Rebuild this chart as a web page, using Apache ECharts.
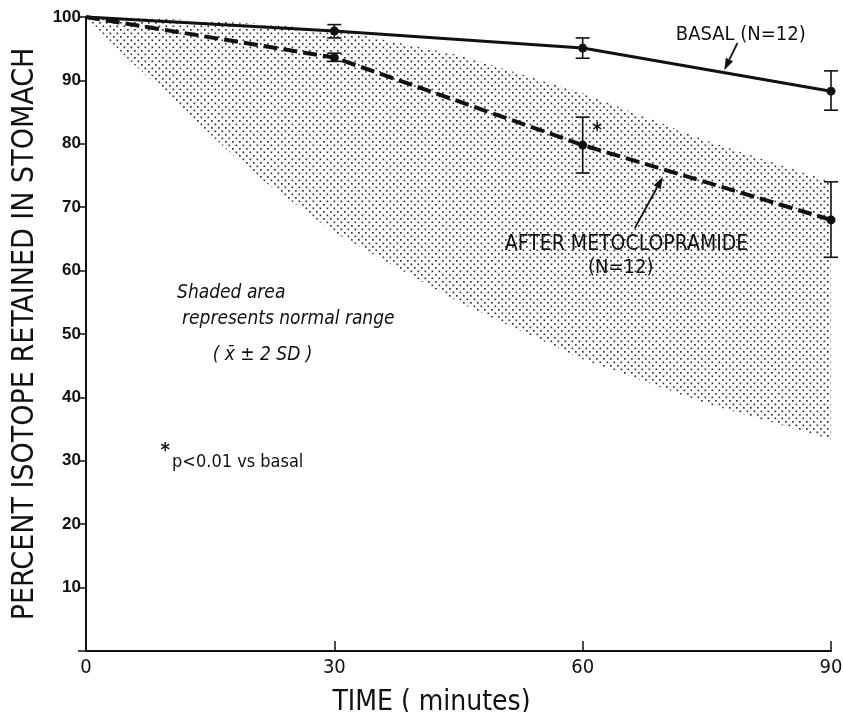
<!DOCTYPE html>
<html>
<head>
<meta charset="utf-8">
<script src="https://cdn.jsdelivr.net/npm/echarts@6/dist/echarts.min.js"></script>
<style>
  html, body { margin: 0; padding: 0; background: #fff; }
  #chart { width: 843px; height: 712px; }
</style>
</head>
<body>
<div id="chart"></div>
<script>
// sampling times (minutes)
var times = [0, 30, 60, 90];
// basal emptying, mean and error bar ends
var basal = [100, 97.8, 95.1, 88.3];
var basalLow = [null, 96.7, 93.5, 85.3];
var basalHigh = [null, 98.8, 96.7, 91.5];
// after metoclopramide
var meto = [100, 93.6, 79.8, 68.0];
var metoLow = [null, 93.0, 75.4, 62.1];
var metoHigh = [null, 94.3, 84.2, 74.0];
// normal range (mean +/- 2 SD), shaded
var bandTimes = [0, 5, 10, 20, 30, 45, 60, 75, 90];
var bandUpper = [100, 99.9, 99.7, 99.0, 98.0, 94.0, 88.0, 80.5, 74.0];
var bandLower = [100, 93.5, 87.5, 75.5, 66.0, 55.0, 46.0, 39.0, 33.4];
// axis ticks
var xTicks = [0, 30, 60, 90];
var yTicks = [10, 20, 30, 40, 50, 60, 70, 80, 90, 100];

var INK = '#111';
var FONT = '"Liberation Sans Narrow", "DejaVu Sans Condensed", "Liberation Sans", sans-serif';

// stipple pattern for the normal range
function dots() {
  var c = document.createElement('canvas');
  c.width = 7; c.height = 7;
  var g = c.getContext('2d');
  g.fillStyle = '#333';
  g.fillRect(1, 1, 1.7, 1.7);
  g.fillRect(4.5, 4.5, 1.7, 1.7);
  return c;
}
var pattern = { image: dots(), repeat: 'repeat' };

function pairs(ys) {
  return times.map(function (t, i) { return [t, ys[i]]; });
}
function errData(lo, hi) {
  var out = [];
  times.forEach(function (t, i) {
    if (lo[i] != null) out.push([t, lo[i], hi[i]]);
  });
  return out;
}
function renderErr(params, api) {
  var x = api.value(0);
  var top = api.coord([x, api.value(2)]);
  var bot = api.coord([x, api.value(1)]);
  var w = 7;
  var st = { stroke: INK, lineWidth: 1.6 };
  return {
    type: 'group',
    children: [
      { type: 'line', shape: { x1: top[0], y1: top[1], x2: bot[0], y2: bot[1] }, style: st },
      { type: 'line', shape: { x1: top[0] - w, y1: top[1], x2: top[0] + w, y2: top[1] }, style: st },
      { type: 'line', shape: { x1: bot[0] - w, y1: bot[1], x2: bot[0] + w, y2: bot[1] }, style: st }
    ]
  };
}
function renderBand(params, api) {
  if (params.dataIndex !== 0) return null;
  var pts = [];
  bandTimes.forEach(function (t, i) { pts.push(api.coord([t, bandUpper[i]])); });
  for (var i = bandTimes.length - 1; i >= 0; i--) pts.push(api.coord([bandTimes[i], bandLower[i]]));
  return {
    type: 'polygon',
    shape: { points: pts },
    style: { fill: pattern, stroke: null }
  };
}

var chart = echarts.init(document.getElementById('chart'));
chart.setOption({
  animation: false,
  backgroundColor: '#fff',
  grid: { left: 86, right: 12, top: 17, bottom: 61, containLabel: false, outerBoundsMode: 'none' },
  xAxis: {
    type: 'value', min: 0, max: 90, interval: 30,
    name: 'TIME ( minutes)', nameLocation: 'middle', nameGap: 38,
    nameTextStyle: { color: INK, fontSize: 28, fontFamily: FONT, padding: [0, 54, 0, 0] },
    axisLine: { lineStyle: { color: INK, width: 2 } },
    axisTick: { inside: true, length: 10, lineStyle: { color: INK, width: 1.5 } },
    axisLabel: { color: INK, fontSize: 20, fontFamily: FONT, margin: 7,
      formatter: function (v) { return xTicks.indexOf(v) >= 0 ? String(v) : ''; } },
    splitLine: { show: false }
  },
  yAxis: {
    type: 'value', min: 0, max: 100, interval: 10,
    name: 'PERCENT ISOTOPE RETAINED IN STOMACH', nameLocation: 'middle', nameGap: 46, nameRotate: 90,
    nameTextStyle: { color: INK, fontSize: 30, fontFamily: FONT },
    axisLine: { lineStyle: { color: INK, width: 2 } },
    axisTick: { inside: false, length: 8, lineStyle: { color: INK, width: 1.5 } },
    axisLabel: { color: INK, fontSize: 17, fontWeight: 'bold', fontFamily: '"Liberation Sans", sans-serif', margin: 5,
      formatter: function (v) { return yTicks.indexOf(v) >= 0 ? String(v) : ''; } },
    splitLine: { show: false }
  },
  series: [
    {
      type: 'custom', name: 'normal', renderItem: renderBand, z: 1,
      data: bandTimes.map(function (t, i) { return [t, bandLower[i], bandUpper[i]]; }),
      encode: { x: 0, y: [1, 2] }
    },
    {
      type: 'line', name: 'BASAL', data: pairs(basal), z: 3,
      symbol: 'circle', symbolSize: function (v) { return v[0] === 0 ? 0 : 9; },
      itemStyle: { color: INK },
      lineStyle: { color: INK, width: 3 }
    },
    {
      type: 'line', name: 'AFTER METOCLOPRAMIDE', data: pairs(meto), z: 3,
      symbol: 'circle', symbolSize: function (v) { return v[0] === 0 ? 0 : 9; },
      itemStyle: { color: INK },
      lineStyle: { color: INK, width: 4, type: [14, 6] }
    },
    { type: 'custom', renderItem: renderErr, data: errData(basalLow, basalHigh), encode: { x: 0, y: [1, 2] }, z: 4 },
    { type: 'custom', renderItem: renderErr, data: errData(metoLow, metoHigh), encode: { x: 0, y: [1, 2] }, z: 4 }
  ]
});

// annotations, placed in data coordinates
function px(p) { return chart.convertToPixel({ gridIndex: 0 }, p); }
function label(text, at, opts) {
  var p = px(at);
  return {
    type: 'text', x: p[0], y: p[1], z: 10,
    style: Object.assign({
      text: text, fill: INK, font: '16px ' + FONT,
      textAlign: 'left', textVerticalAlign: 'middle'
    }, opts || {})
  };
}
function arrow(from, to) {
  var a = px(from), b = px(to);
  var dx = b[0] - a[0], dy = b[1] - a[1];
  var len = Math.sqrt(dx * dx + dy * dy);
  var ux = dx / len, uy = dy / len;
  var hl = 12, hw = 4;
  var bx = b[0] - ux * hl, by = b[1] - uy * hl;
  return [
    { type: 'line', z: 10, shape: { x1: a[0], y1: a[1], x2: bx, y2: by }, style: { stroke: INK, lineWidth: 1.8 } },
    { type: 'polygon', z: 10, shape: { points: [b, [bx - uy * hw, by + ux * hw], [bx + uy * hw, by - ux * hw]] }, style: { fill: INK } }
  ];
}
var italic = 'italic 19px ' + FONT;
var big = '20px ' + FONT;
var g = [
  label('BASAL (N=12)', [79.1, 97.2], { textAlign: 'center', font: big }),
  label('AFTER METOCLOPRAMIDE', [65.3, 64.1], { textAlign: 'center', font: '21px ' + FONT }),
  label('(N=12)', [64.6, 60.4], { textAlign: 'center', font: big }),
  label('Shaded area', [11.0, 56.5], { font: italic }),
  label('represents normal range', [11.6, 52.4], { font: italic }),
  label('( x\u0304 \u00b1 2 SD )', [15.3, 46.6], { font: italic }),
  label('*', [9.0, 31.6], { font: 'bold 20px ' + FONT }),
  label('p<0.01 vs basal', [10.4, 29.8], { font: '18px ' + FONT }),
  label('*', [61.2, 82.0], { font: 'bold 20px ' + FONT })
].concat(arrow([78.7, 95.9], [77.1, 91.6]), arrow([66.3, 66.7], [69.7, 74.8]));
chart.setOption({ graphic: g });
</script>
</body>
</html>
